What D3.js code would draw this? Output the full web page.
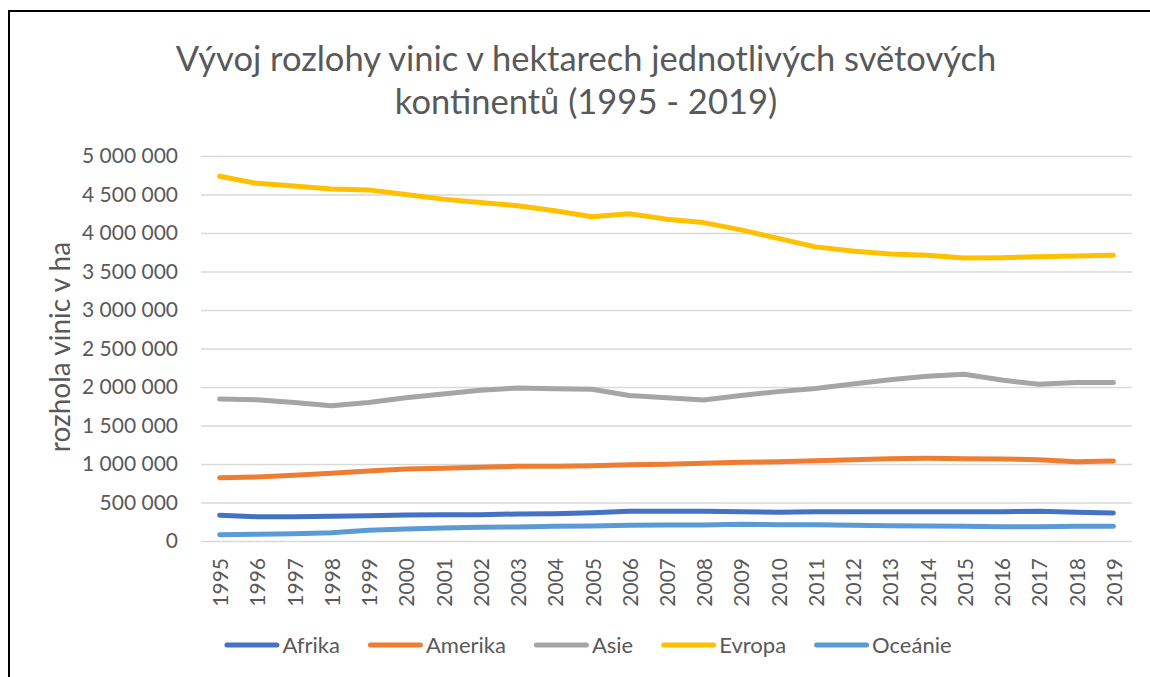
<!DOCTYPE html>
<html>
<head>
<meta charset="utf-8">
<script src="https://cdn.jsdelivr.net/npm/d3@7"></script>
<style>
  body { margin: 0; background: #fff; }
  svg { display: block; }
  text { font-family: Lato, "Open Sans", sans-serif; fill: #595959; }
</style>
</head>
<body>
<svg id="chart"></svg>
<script>
// years on the category axis
var years = ["1995","1996","1997","1998","1999","2000","2001","2002","2003","2004","2005","2006",
             "2007","2008","2009","2010","2011","2012","2013","2014","2015","2016","2017","2018","2019"];

// hectares per continent
var afrika  = [334000,316000,316000,320000,329000,338000,342000,342000,351000,355000,368000,385000,
               385000,385000,381000,373000,381000,381000,381000,381000,381000,381000,385000,373000,364000];
var amerika = [822000,831000,853000,879000,909000,935000,944000,957000,970000,970000,978000,991000,
               996000,1009000,1022000,1030000,1043000,1056000,1069000,1074000,1069000,1065000,1056000,1030000,1039000];
var asie    = [1844000,1835000,1800000,1757000,1800000,1860000,1910000,1957000,1987000,1978000,1970000,1890000,
               1860000,1830000,1890000,1940000,1980000,2040000,2095000,2140000,2165000,2090000,2035000,2060000,2060000];
var evropa  = [4737000,4645000,4610000,4570000,4560000,4500000,4440000,4395000,4355000,4290000,4210000,4250000,
               4180000,4135000,4040000,3930000,3820000,3766000,3727000,3710000,3675000,3680000,3690000,3700000,3710000];
var oceanie = [82000,87000,95000,108000,139000,156000,169000,178000,182000,191000,195000,204000,
               208000,208000,217000,212000,212000,204000,199000,195000,191000,186000,186000,191000,191000];

var seriesNames = ["Afrika","Amerika","Asie","Evropa","Oceánie"];
var seriesColors = ["#4472C4","#ED7D31","#A5A5A5","#FFC000","#5B9BD5"];
var yTicks = [0,500000,1000000,1500000,2000000,2500000,3000000,3500000,4000000,4500000,5000000];

var titleLines = ["Vývoj rozlohy vinic v hektarech jednotlivých světových", "kontinentů (1995 - 2019)"];
var yTitle = "rozhola vinic v ha";

var screen = {width: 1150, height: 677}
var plot = {left: 201, right: 1132, top: 156, bottom: 541}

var svg = d3.select("#chart")
    .attr("width", screen.width)
    .attr("height", screen.height)

// chart frame (only left/top visible in the crop)
svg.append("rect")
    .attr("x", 9).attr("y", 11)
    .attr("width", 1300).attr("height", 800)
    .attr("fill", "none").attr("stroke", "#000").attr("stroke-width", 2)

var xScale = d3.scalePoint()
    .domain(years)
    .range([plot.left, plot.right])
    .padding(0.5)

var yScale = d3.scaleLinear()
    .domain([0, 5000000])
    .range([plot.bottom, plot.top])

var cz = d3.formatLocale({decimal: ",", thousands: " ", grouping: [3], currency: ["", ""]})
var fmt = cz.format(",d")

// gridlines + y labels
var yAxis = d3.axisLeft(yScale)
    .tickValues(yTicks)
    .tickFormat(fmt)
    .tickSize(-(plot.right - plot.left))
    .tickPadding(23)

var gy = svg.append("g")
    .attr("transform", "translate(" + plot.left + ",0)")
    .call(yAxis)
gy.select(".domain").remove()
gy.selectAll(".tick line").attr("stroke", "#D9D9D9").attr("stroke-width", 1.3)
gy.selectAll(".tick text").attr("font-size", 21).style("fill", "#595959")

// x labels, rotated
var xAxis = d3.axisBottom(xScale).tickSize(0).tickPadding(0)
var gx = svg.append("g")
    .attr("transform", "translate(0," + plot.bottom + ")")
    .call(xAxis)
gx.select(".domain").remove()
gx.selectAll(".tick text")
    .attr("font-size", 21)
    .style("fill", "#595959")
    .attr("text-anchor", "end")
    .attr("dy", null)
    .attr("transform", "translate(8,17) rotate(-90)")

// lines
var allSeries = [afrika, amerika, asie, evropa, oceanie]
var line = d3.line()
    .x(function(d, i) { return xScale(years[i]) })
    .y(function(d) { return yScale(d) })

svg.selectAll(".series")
    .data(allSeries)
    .enter()
    .append("path")
    .attr("class", "series")
    .attr("d", line)
    .attr("fill", "none")
    .attr("stroke", function(d, i) { return seriesColors[i] })
    .attr("stroke-width", 5)
    .attr("stroke-linecap", "round")
    .attr("stroke-linejoin", "round")

// title
svg.selectAll(".title")
    .data(titleLines)
    .enter()
    .append("text")
    .attr("class", "title")
    .attr("x", 586)
    .attr("y", function(d, i) { return 71 + i * 43 })
    .attr("text-anchor", "middle")
    .attr("font-size", 34.5)
    .text(function(d) { return d })

// y axis title
svg.append("text")
    .attr("transform", "translate(70," + 347 + ") rotate(-90)")
    .attr("text-anchor", "middle")
    .attr("font-size", 28)
    .text(yTitle)

// legend, centred under the title
var legend = svg.append("g").attr("transform", "translate(0,645)")
var lx = 0
seriesNames.forEach(function(name, i) {
    var item = legend.append("g").attr("transform", "translate(" + lx + ",0)")
    item.append("line")
        .attr("x1", 2.5).attr("x2", 52.5)
        .attr("stroke", seriesColors[i]).attr("stroke-width", 5)
        .attr("stroke-linecap", "round")
    var t = item.append("text")
        .attr("x", 58).attr("y", 8)
        .attr("font-size", 22)
        .text(name)
    lx += 58 + t.node().getComputedTextLength() + 28
})
legend.attr("transform", "translate(" + (588 - (lx - 28) / 2) + ",645)")
</script>
</body>
</html>
